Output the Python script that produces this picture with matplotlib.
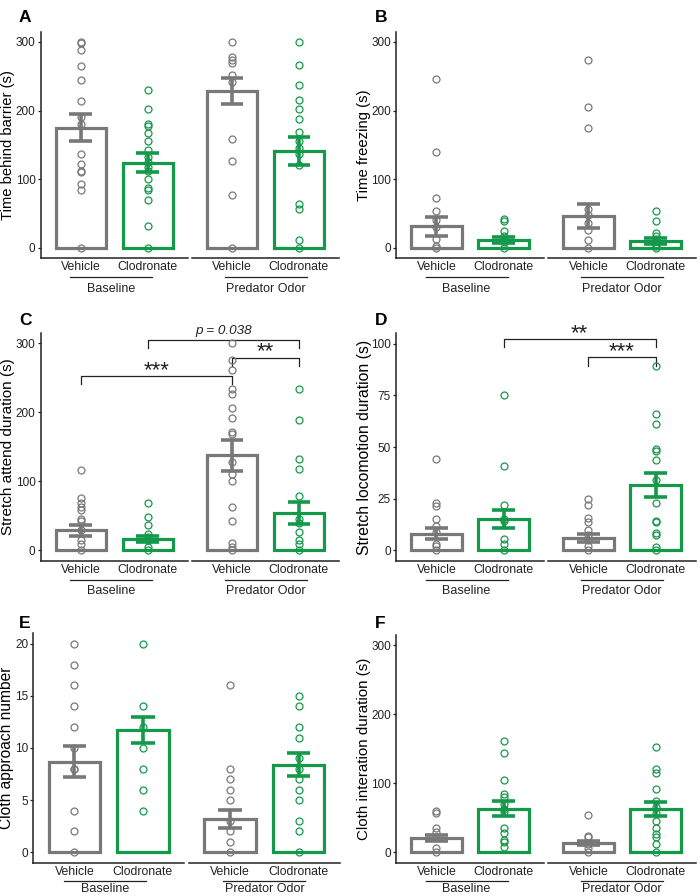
import numpy as np
import matplotlib
matplotlib.use("Agg")
import matplotlib.pyplot as plt
from matplotlib.lines import Line2D
from matplotlib.transforms import offset_copy

plt.rcParams['font.family'] = ['Liberation Sans', 'DejaVu Sans']

# ---------------- data ----------------
categories = ["Vehicle", "Clodronate"]
phases = ["Baseline", "Predator Odor"]
panel_letters = ["A", "B", "C", "D", "E", "F"]
ylabels = ["Time behind barrier (s)", "Time freezing (s)", "Stretch attend duration (s)",
           "Stretch locomotion duration (s)", "Cloth approach number", "Cloth interation duration (s)"]

# order of groups: Baseline-Vehicle, Baseline-Clodronate, Predator-Vehicle, Predator-Clodronate
A_means = [175, 124, 229, 141]
A_sems = [19.5, 14, 19, 20]
A_veh_base = [300, 298, 288, 265, 245, 214, 190, 181, 137, 122, 112, 110, 93, 84, 0]
A_clo_base = [230, 202, 180, 177, 168, 156, 143, 132, 125, 118, 112, 100, 87, 84, 70, 31, 0]
A_veh_pred = [300, 278, 274, 270, 252, 241, 158, 127, 77, 0]
A_clo_pred = [300, 266, 237, 215, 203, 188, 169, 156, 145, 137, 120, 64, 57, 11, 0]

B_means = [31, 11.5, 46, 9.6]
B_sems = [13.7, 4.5, 17.8, 4.5]
B_veh_base = [246, 139, 72, 54, 40, 30, 12, 2, 0]
B_clo_base = [42, 39, 24, 17, 12, 8, 0]
B_veh_pred = [274, 205, 174, 56, 48, 36, 26, 11, 0]
B_clo_pred = [54, 39, 22, 17, 12, 6, 2, 0]

C_means = [29, 17, 137.5, 54]
C_sems = [7.7, 4.4, 22.4, 16.5]
C_veh_base = [117, 76, 69, 63, 59, 46, 43, 29, 15, 9, 0]
C_clo_base = [69, 48, 37, 24, 19, 15, 5, 0]
C_veh_pred = [300, 275, 261, 234, 227, 206, 191, 172, 168, 128, 110, 101, 63, 43, 11, 5, 0]
C_clo_pred = [233, 188, 132, 118, 78, 45, 39, 26, 15, 9, 0]

D_means = [8.1, 15.3, 6.1, 31.5]
D_sems = [2.6, 4.35, 1.95, 5.9]
D_veh_base = [44, 23, 21.5, 15, 12, 9, 3, 2, 0]
D_clo_base = [75, 41, 22, 15, 14, 5.5, 3, 0]
D_veh_pred = [25, 22, 15.5, 13.5, 10, 7.5, 5, 2, 0]
D_clo_pred = [89, 66, 61, 49, 48, 43.5, 34, 23, 14, 13.5, 8.5, 7.5, 1.6, 0]

E_means = [8.7, 11.7, 3.2, 8.4]
E_sems = [1.5, 1.25, 0.9, 1.1]
E_veh_base = [20, 18, 16, 14, 12, 10, 8, 8, 4, 2, 0]
E_clo_base = [20, 14, 12, 10, 8, 6, 4]
E_veh_pred = [16, 8, 7, 6, 5, 3, 2, 1, 0]
E_clo_pred = [15, 14, 12, 11, 9, 8, 7, 6, 5, 3, 2, 0]

F_means = [20.8, 63, 13.5, 63]
F_sems = [4.8, 11, 3.4, 10.5]
F_veh_base = [60.5, 56.6, 35, 29, 22, 6, 0]
F_clo_base = [161, 144, 105.5, 84.7, 80.8, 70, 63, 58, 35.3, 28, 18, 14.5, 8.2]
F_veh_pred = [54, 24, 22, 12, 6, 0]
F_clo_pred = [153, 121, 115, 92, 75, 66, 57, 46, 35, 26, 22, 12, 0]

# significance annotations: (from (facet,pos), to (facet,pos), bracket y, tick length, label)
C_sig = [((0, 2), (1, 2), 305, 11.5, "p = 0.038"),
         ((0, 1), (1, 1), 252, 11.5, "***"),
         ((1, 1), (1, 2), 279, 11.5, "**")]
D_sig = [((0, 2), (1, 2), 102.1, 3.8, "**"),
         ((1, 1), (1, 2), 93.5, 4.3, "***")]

# ---------------- style ----------------
GRAY = "#787878"
GREEN = "#14994a"
cols = [GRAY, GREEN]
AXC = "#222222"
W, H = 700, 896

fig = plt.figure(figsize=(W / 100, H / 100), dpi=100)


def px_axes(x0, x1, top, bottom):
    return fig.add_axes([x0 / W, 1 - bottom / H, (x1 - x0) / W, (bottom - top) / H])


panels = [
    dict(means=A_means, sems=A_sems, pts=[A_veh_base, A_clo_base, A_veh_pred, A_clo_pred],
         L=(40.7, 188), R=(192, 339), top=31.7, bot=258, ylx=8, letter=(19, 10),
         ylim=(-15, 315), yt=[0, 100, 200, 300], ylfs=10.6, sig=[], glab=(19.3, 30.5)),
    dict(means=B_means, sems=B_sems, pts=[B_veh_base, B_clo_base, B_veh_pred, B_clo_pred],
         L=(396, 544), R=(548, 696), top=31.7, bot=258, ylx=364, letter=(375, 10),
         ylim=(-15, 315), yt=[0, 100, 200, 300], ylfs=10.7, sig=[], glab=(19.3, 30.5)),
    dict(means=C_means, sems=C_sems, pts=[C_veh_base, C_clo_base, C_veh_pred, C_clo_pred],
         L=(40.7, 188), R=(192, 339), top=332.7, bot=560.7, ylx=8, letter=(19, 313),
         ylim=(-15, 315), yt=[0, 100, 200, 300], ylfs=11.0, sig=C_sig, glab=(19.3, 30.5)),
    dict(means=D_means, sems=D_sems, pts=[D_veh_base, D_clo_base, D_veh_pred, D_clo_pred],
         L=(396, 544), R=(548, 696), top=333.3, bot=560.7, ylx=364, letter=(375, 313),
         ylim=(-5, 105), yt=[0, 25, 50, 75, 100], ylfs=11.3, sig=D_sig, glab=(19.3, 30.5)),
    dict(means=E_means, sems=E_sems, pts=[E_veh_base, E_clo_base, E_veh_pred, E_clo_pred],
         L=(33.3, 184), R=(189, 339.7), top=633.3, bot=862.7, ylx=7, letter=(19, 616),
         ylim=(-1, 21), yt=[0, 5, 10, 15, 20], ylfs=11.2, sig=[], glab=(18, 26.3)),
    dict(means=F_means, sems=F_sems, pts=[F_veh_base, F_clo_base, F_veh_pred, F_clo_pred],
         L=(396, 544), R=(548, 696), top=635, bot=862.7, ylx=364, letter=(375, 616),
         ylim=(-15, 315), yt=[0, 100, 200, 300], ylfs=10.9, sig=[], glab=(18, 26.3)),
]

xpos = [1, 2]
for pi, p in enumerate(panels):
    axes = []
    for f, (x0, x1) in enumerate([p["L"], p["R"]]):
        ax = px_axes(x0, x1, p["top"], p["bot"])
        ax.set_xlim(0.4, 2.6)
        ax.set_ylim(*p["ylim"])
        ax.patch.set_alpha(0)
        for s in ["top", "right"]:
            ax.spines[s].set_visible(False)
        ax.spines["bottom"].set_color(AXC)
        ax.spines["bottom"].set_linewidth(1.1)
        if f == 0:
            ax.spines["left"].set_color(AXC)
            ax.spines["left"].set_linewidth(1.1)
            ax.set_yticks(p["yt"])
            ax.set_yticklabels([str(v) for v in p["yt"]])
            ax.tick_params(axis="y", length=2.5, width=0.9, pad=1.2, labelsize=8.5,
                           colors=AXC)
        else:
            ax.spines["left"].set_visible(False)
            ax.set_yticks([])
        ax.set_xticks(xpos)
        ax.set_xticklabels(categories)
        ax.tick_params(axis="x", length=0, pad=2.5, labelsize=8.8, colors=AXC)

        gm = p["means"][2 * f:2 * f + 2]
        gs = p["sems"][2 * f:2 * f + 2]
        ax.bar(xpos, gm, width=0.75, facecolor="white", edgecolor=cols, linewidth=2.3,
               zorder=2)
        for k in range(2):
            vals = p["pts"][2 * f + k]
            ax.plot([xpos[k]] * len(vals), vals, "o", mfc="none", mec=cols[k], ms=5,
                    mew=0.9, zorder=3, clip_on=False)
            ax.vlines(xpos[k], gm[k] - gs[k], gm[k] + gs[k], color=cols[k], lw=2.6, zorder=4)
            ax.hlines([gm[k] - gs[k], gm[k] + gs[k]], xpos[k] - 0.17, xpos[k] + 0.17,
                      color=cols[k], lw=2.6, zorder=4)

        # group label + underline
        ul, gl = p["glab"]
        cx = 0.5 - (3.5 / (x1 - x0) if f == 0 else 0)
        half = 41 / (x1 - x0)
        tl = offset_copy(ax.transAxes, fig=fig, x=0, y=-ul, units="dots")
        ax.add_line(Line2D([cx - half, cx + half], [0, 0], transform=tl, color=AXC,
                           lw=0.9, clip_on=False))
        tt = offset_copy(ax.transAxes, fig=fig, x=0, y=-gl, units="dots")
        ax.text(cx, 0, phases[f], transform=tt, ha="center", va="center", fontsize=9,
                color=AXC)
        axes.append(ax)

    axL = axes[0]

    def xin(fp, y):
        fa, pos = fp
        d = axes[fa].transData.transform((pos, y))
        return axL.transData.inverted().transform(d)[0]

    for (g1, g2, yb, tk, lab) in p["sig"]:
        xa, xb = xin(g1, yb), xin(g2, yb)
        axL.add_line(Line2D([xa, xa, xb, xb], [yb - tk, yb, yb, yb - tk], color=AXC,
                            lw=0.9, clip_on=False, zorder=5))
        ymm = p["ylim"][1] - p["ylim"][0]
        if lab.startswith("p"):
            axL.text((xa + xb) / 2, yb + ymm * 0.024, lab, ha="center", va="baseline",
                     fontsize=9.7, style="italic", color=AXC, clip_on=False)
        else:
            axL.text((xa + xb) / 2, yb + ymm * 0.001, lab, ha="center", va="baseline",
                     fontsize=16, color=AXC, clip_on=False)

    # y label
    yc = (p["top"] + p["bot"]) / 2
    fig.text(p["ylx"] / W, 1 - yc / H, ylabels[pi], rotation=90, ha="center", va="center",
             fontsize=p["ylfs"], color="black")
    # panel letter
    lx, ly = p["letter"]
    fig.text(lx / W, 1 - ly / H, panel_letters[pi], ha="left", va="top", fontsize=12.5,
             fontweight="bold", color="black")

fig.savefig("out.png", dpi=100)
